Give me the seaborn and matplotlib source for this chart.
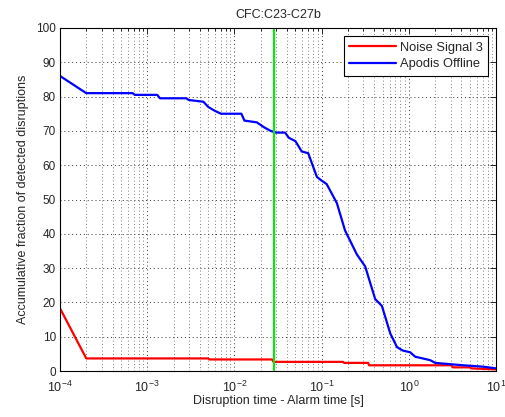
import numpy as np
import pandas as pd
import seaborn as sns
import matplotlib.pyplot as plt

# values
blue_t = [1e-4, 2e-4, 6.8e-4, 7.2e-4, 1.3e-3, 1.4e-3, 2.8e-3, 3.0e-3, 4.4e-3, 5.0e-3,
          5.8e-3, 7.0e-3, 1.2e-2, 1.3e-2, 1.8e-2, 2.2e-2, 2.6e-2, 3.0e-2, 0.038, 0.042,
          0.050, 0.059, 0.070, 0.088, 0.100, 0.114, 0.149, 0.185, 0.253, 0.315,
          0.41, 0.49, 0.61, 0.73, 0.85, 1.03, 1.18, 1.75, 2.0, 4.2, 7.1, 10]
blue_v = [86, 81, 81, 80.5, 80.5, 79.5, 79.5, 79, 78.5, 77,
          76, 75, 75, 73, 72.5, 71, 70, 69.5, 69.5, 68,
          67, 64, 63.5, 56.6, 55.5, 54.5, 49, 41, 34, 30.5,
          21, 19, 11, 7, 6, 5.5, 4.2, 3.2, 2.4, 1.7, 1.3, 0.8]

red_t = [1e-4, 2e-4, 5e-3, 5.2e-3, 0.027, 0.028, 0.176, 0.18, 0.34, 0.35,
         3.1, 3.2, 5, 5.2, 10]
red_v = [18.3, 3.7, 3.7, 3.4, 3.4, 2.7, 2.7, 2.4, 2.4, 1.7,
         1.7, 1.1, 1.1, 0.8, 0.5]

alarm_t = 0.0285

sns.set_style("white")
plt.rcParams['font.family'] = ['Liberation Sans', 'DejaVu Sans']
plt.rcParams['xtick.direction'] = 'in'
plt.rcParams['ytick.direction'] = 'in'

fig = plt.figure(figsize=(5.06, 4.17), dpi=100)
ax = fig.add_axes([0.1186, 0.110, 0.862, 0.823])

red = pd.DataFrame({"t": red_t, "v": red_v})
blue = pd.DataFrame({"t": blue_t, "v": blue_v})
sns.lineplot(data=red, x="t", y="v", color="#ff0000", lw=1.6, label="Noise Signal 3",
             sort=False, ax=ax)
sns.lineplot(data=blue, x="t", y="v", color="#0000ff", lw=1.6, label="Apodis Offline",
             sort=False, ax=ax)
ax.axvline(alarm_t, color="#00ee00", lw=1.5)

ax.set_xscale("log")
ax.set_xlim(1e-4, 10)
ax.set_ylim(0, 100)
ax.set_yticks(np.arange(0, 101, 10))
ax.grid(True, which="major", axis="both", ls=(0, (1, 3)), color="#333333", lw=0.7)
ax.grid(True, which="minor", axis="x", ls=(0, (1, 3)), color="#555555", lw=0.6)
ax.tick_params(which="both", top=True, right=True, labelsize=8.5, length=4, width=0.7)
ax.tick_params(axis="x", pad=6, labelsize=9)
ax.tick_params(axis="y", pad=3)
ax.tick_params(which="minor", length=2)
for s in ax.spines.values():
    s.set_color("black")
    s.set_linewidth(0.8)

ax.set_title("CFC:C23-C27b", fontsize=9, pad=7)
ax.set_xlabel("Disruption time - Alarm time [s]", fontsize=9, labelpad=0)
ax.set_ylabel("Accumulative fraction of detected disruptions", fontsize=9, labelpad=5)

leg = ax.legend(loc="upper right", fontsize=9.3, frameon=True, fancybox=False,
                edgecolor="black", framealpha=1, handlelength=3.6, borderpad=0.45,
                labelspacing=0.35, handletextpad=0.3, borderaxespad=0.6)
leg.get_frame().set_linewidth(0.8)

fig.savefig("out.png", dpi=100)
